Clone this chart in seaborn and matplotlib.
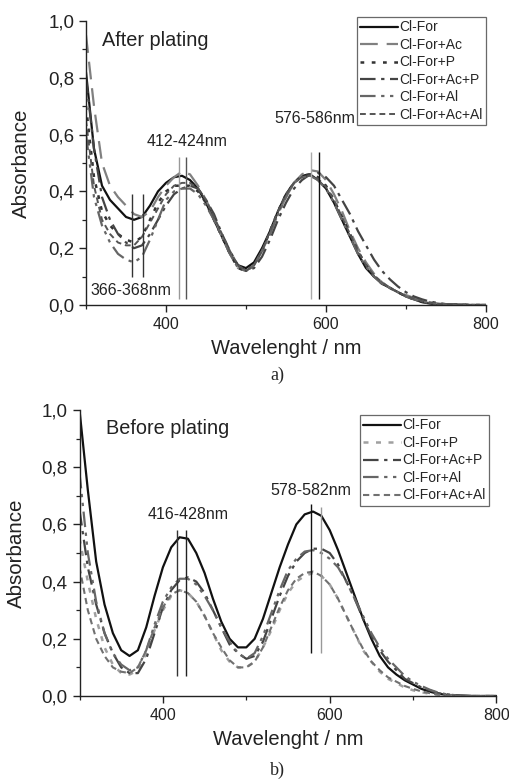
import numpy as np
import pandas as pd
import matplotlib
matplotlib.use("Agg")
import matplotlib.pyplot as plt
from matplotlib.ticker import MultipleLocator, FuncFormatter
import seaborn as sns

# ---------------- data ----------------
wavelength = list(range(300, 810, 10))

# After plating (a)
a_clfor = [0.82, 0.55, 0.42, 0.37, 0.34, 0.31, 0.30, 0.31, 0.35, 0.40, 0.43, 0.45, 0.455, 0.44, 0.41, 0.36,
           0.30, 0.24, 0.18, 0.14, 0.13, 0.15, 0.20, 0.26, 0.33, 0.39, 0.43, 0.455, 0.46, 0.44, 0.41, 0.36,
           0.30, 0.24, 0.18, 0.13, 0.10, 0.075, 0.06, 0.045, 0.03, 0.02, 0.01, 0.005, 0.003, 0.002, 0.001,
           0.001, 0.0, 0.0, 0.0]
a_ac = [0.95, 0.70, 0.50, 0.42, 0.38, 0.35, 0.32, 0.31, 0.33, 0.38, 0.42, 0.45, 0.47, 0.46, 0.42, 0.37,
        0.31, 0.24, 0.18, 0.13, 0.12, 0.14, 0.19, 0.25, 0.32, 0.38, 0.43, 0.46, 0.475, 0.47, 0.44, 0.39,
        0.33, 0.26, 0.20, 0.15, 0.11, 0.08, 0.06, 0.045, 0.035, 0.025, 0.015, 0.01, 0.005, 0.003, 0.002,
        0.001, 0.0, 0.0, 0.0]
a_p = [0.70, 0.45, 0.33, 0.28, 0.25, 0.23, 0.22, 0.24, 0.30, 0.36, 0.40, 0.42, 0.42, 0.42, 0.40, 0.36,
       0.30, 0.24, 0.18, 0.13, 0.12, 0.14, 0.19, 0.26, 0.33, 0.39, 0.43, 0.455, 0.46, 0.45, 0.42, 0.37,
       0.31, 0.25, 0.19, 0.14, 0.10, 0.075, 0.06, 0.045, 0.03, 0.02, 0.012, 0.006, 0.004, 0.002, 0.001,
       0.001, 0.0, 0.0, 0.0]
a_acp = [0.80, 0.55, 0.38, 0.30, 0.25, 0.22, 0.20, 0.21, 0.25, 0.30, 0.35, 0.39, 0.41, 0.42, 0.41, 0.37,
         0.32, 0.25, 0.19, 0.14, 0.12, 0.13, 0.17, 0.23, 0.30, 0.36, 0.41, 0.44, 0.46, 0.465, 0.45, 0.42,
         0.37, 0.32, 0.26, 0.21, 0.16, 0.12, 0.09, 0.065, 0.045, 0.03, 0.02, 0.012, 0.007, 0.003, 0.002,
         0.001, 0.0, 0.0, 0.0]
a_al = [0.60, 0.38, 0.28, 0.22, 0.18, 0.16, 0.15, 0.17, 0.23, 0.30, 0.37, 0.40, 0.41, 0.41, 0.39, 0.35,
        0.30, 0.24, 0.18, 0.13, 0.12, 0.14, 0.19, 0.25, 0.32, 0.38, 0.43, 0.45, 0.455, 0.44, 0.41, 0.36,
        0.30, 0.24, 0.18, 0.135, 0.10, 0.075, 0.06, 0.045, 0.03, 0.02, 0.012, 0.006, 0.004, 0.002, 0.001,
        0.001, 0.0, 0.0, 0.0]
a_acal = [0.65, 0.42, 0.30, 0.25, 0.22, 0.21, 0.21, 0.24, 0.29, 0.34, 0.39, 0.42, 0.43, 0.43, 0.41, 0.37,
          0.31, 0.25, 0.19, 0.14, 0.12, 0.14, 0.19, 0.26, 0.33, 0.39, 0.43, 0.45, 0.455, 0.445, 0.415, 0.37,
          0.31, 0.25, 0.19, 0.14, 0.105, 0.08, 0.06, 0.045, 0.032, 0.022, 0.013, 0.007, 0.004, 0.002, 0.001,
          0.001, 0.0, 0.0, 0.0]

# Before plating (b)
b_clfor = [1.00, 0.72, 0.47, 0.32, 0.22, 0.16, 0.14, 0.16, 0.24, 0.35, 0.45, 0.52, 0.555, 0.55, 0.50, 0.43,
           0.34, 0.26, 0.20, 0.17, 0.17, 0.20, 0.27, 0.36, 0.45, 0.53, 0.60, 0.635, 0.645, 0.63, 0.58, 0.51,
           0.43, 0.35, 0.27, 0.20, 0.14, 0.10, 0.075, 0.055, 0.04, 0.025, 0.015, 0.008, 0.004, 0.002, 0.001,
           0.0, 0.0, 0.0, 0.0]
b_p = [0.55, 0.40, 0.27, 0.17, 0.11, 0.08, 0.075, 0.09, 0.15, 0.23, 0.30, 0.35, 0.37, 0.36, 0.33, 0.28,
       0.22, 0.16, 0.12, 0.10, 0.10, 0.12, 0.17, 0.23, 0.30, 0.36, 0.40, 0.42, 0.43, 0.42, 0.39, 0.34,
       0.28, 0.22, 0.16, 0.12, 0.085, 0.06, 0.045, 0.03, 0.02, 0.013, 0.008, 0.004, 0.002, 0.001, 0.0,
       0.0, 0.0, 0.0, 0.0]
b_acp = [0.65, 0.45, 0.32, 0.22, 0.15, 0.10, 0.08, 0.08, 0.13, 0.22, 0.31, 0.37, 0.405, 0.415, 0.40, 0.36,
         0.30, 0.24, 0.18, 0.15, 0.13, 0.14, 0.19, 0.27, 0.35, 0.42, 0.47, 0.50, 0.515, 0.515, 0.50, 0.46,
         0.40, 0.34, 0.27, 0.21, 0.16, 0.12, 0.09, 0.06, 0.045, 0.03, 0.02, 0.01, 0.006, 0.003, 0.001,
         0.0, 0.0, 0.0, 0.0]
b_al = [0.78, 0.50, 0.33, 0.22, 0.15, 0.11, 0.09, 0.10, 0.16, 0.25, 0.33, 0.38, 0.41, 0.41, 0.39, 0.35,
        0.30, 0.24, 0.19, 0.15, 0.13, 0.15, 0.21, 0.29, 0.37, 0.44, 0.48, 0.505, 0.51, 0.50, 0.48, 0.45,
        0.40, 0.34, 0.28, 0.22, 0.17, 0.13, 0.10, 0.07, 0.05, 0.035, 0.022, 0.012, 0.006, 0.003, 0.001,
        0.0, 0.0, 0.0, 0.0]
b_acal = [0.45, 0.30, 0.20, 0.14, 0.10, 0.085, 0.08, 0.10, 0.16, 0.24, 0.31, 0.355, 0.37, 0.36, 0.33, 0.28,
          0.22, 0.17, 0.125, 0.10, 0.10, 0.12, 0.17, 0.24, 0.31, 0.37, 0.41, 0.43, 0.435, 0.42, 0.39, 0.34,
          0.28, 0.22, 0.165, 0.12, 0.09, 0.065, 0.05, 0.035, 0.025, 0.016, 0.01, 0.005, 0.002, 0.001, 0.0,
          0.0, 0.0, 0.0, 0.0]

labels_a = ["Cl-For", "Cl-For+Ac", "Cl-For+P", "Cl-For+Ac+P", "Cl-For+Al", "Cl-For+Ac+Al"]
labels_b = ["Cl-For", "Cl-For+P", "Cl-For+Ac+P", "Cl-For+Al", "Cl-For+Ac+Al"]

# peak marker lines: (wavelength, ymin, ymax, color)
marks_a = [(358, 0.10, 0.39, "#333333"), (371, 0.10, 0.39, "#333333"),
           (416, 0.02, 0.52, "#999999"), (425, 0.02, 0.52, "#555555"),
           (581, 0.02, 0.54, "#aaaaaa"), (591, 0.02, 0.54, "#111111")]
marks_b = [(417, 0.07, 0.58, "#333333"), (428, 0.07, 0.58, "#222222"),
           (577, 0.15, 0.67, "#111111"), (589, 0.15, 0.66, "#999999")]

ann_a = [("366-368nm", 356, 0.05), ("412-424nm", 426, 0.574), ("576-586nm", 586, 0.655)]
ann_b = [("416-428nm", 430, 0.636), ("578-582nm", 577, 0.72)]

# ---------------- styles ----------------
style = {
    "Cl-For": dict(color="#111111", ls="-", lw=1.6),
    "Cl-For+Ac": dict(color="#808080", ls=(0, (8, 4)), lw=1.6),
    "Cl-For+P": dict(color="#333333", ls=(0, (1.5, 3)), lw=1.8),
    "Cl-For+Ac+P": dict(color="#444444", ls=(0, (7, 2.5, 1.5, 2.5)), lw=1.6),
    "Cl-For+Al": dict(color="#666666", ls=(0, (7, 2.5, 1.5, 2.5, 1.5, 2.5)), lw=1.6),
    "Cl-For+Ac+Al": dict(color="#555555", ls=(0, (3, 2)), lw=1.4),
}
style_b = dict(style)
style_b["Cl-For+P"] = dict(color="#a0a0a0", ls=(0, (2, 3)), lw=1.8)
style_b["Cl-For+Ac+Al"] = dict(color="#707070", ls=(0, (3, 2)), lw=1.5)

sns.set_style("ticks")
plt.rcParams["font.family"] = ["Liberation Sans", "DejaVu Sans"]

W, H = 509, 779
fig = plt.figure(figsize=(W / 100, H / 100), dpi=100)
ax1 = fig.add_axes([86 / W, 1 - 305 / H, 400 / W, 284 / H])
ax2 = fig.add_axes([79.5 / W, 1 - 696 / H, 417 / W, 286 / H])


def draw(ax, labels, series, styles, marks, anns, title, title_xy, legend_box, ylabelpad):
    for lab, vals in zip(labels, series):
        st = styles[lab]
        sns.lineplot(x=wavelength, y=vals, ax=ax, color=st["color"], linestyle=st["ls"],
                     linewidth=st["lw"], label=lab)
    for (xv, y0, y1, c) in marks:
        ax.vlines(xv, y0, y1, colors=c, linewidth=1.0)
    for (txt, xv, yv) in anns:
        ax.text(xv, yv, txt, ha="center", va="center", fontsize=11.5, color="#222222")
    ax.text(title_xy[0], title_xy[1], title, ha="left", va="center", fontsize=14.3, color="#222222")
    ax.set_xlim(300, 800)
    ax.set_ylim(0, 1.0)
    ax.xaxis.set_major_locator(MultipleLocator(200))
    ax.xaxis.set_minor_locator(MultipleLocator(100))
    ax.yaxis.set_major_locator(MultipleLocator(0.2))
    ax.yaxis.set_minor_locator(MultipleLocator(0.1))
    ax.yaxis.set_major_formatter(FuncFormatter(lambda v, p: f"{v:.1f}".replace(".", ",")))
    ax.xaxis.set_major_formatter(FuncFormatter(lambda v, p: "" if v < 350 else f"{v:.0f}"))
    ax.tick_params(which="major", length=5, width=1.0, direction="out", colors="#222222")
    ax.tick_params(axis="y", which="major", labelsize=13.5)
    ax.tick_params(axis="x", which="major", labelsize=11.5)
    ax.tick_params(which="minor", length=3, width=0.9, direction="out", colors="#222222")
    for s in ["top", "right"]:
        ax.spines[s].set_visible(False)
    for s in ["left", "bottom"]:
        ax.spines[s].set_linewidth(1.0)
        ax.spines[s].set_color("#222222")
    ax.set_xlabel("Wavelenght / nm", fontsize=14.5, color="#222222", labelpad=5)
    ax.set_ylabel("Absorbance", fontsize=14.8, color="#222222", labelpad=ylabelpad)
    leg = ax.legend(loc="upper right", bbox_to_anchor=legend_box, bbox_transform=fig.transFigure,
                    borderaxespad=0, fontsize=10, frameon=True, fancybox=False, handlelength=2.7,
                    handletextpad=0.1, labelspacing=0.25, borderpad=0.25)
    leg.get_frame().set_edgecolor("#444444")
    leg.get_frame().set_linewidth(0.9)


draw(ax1, labels_a, [a_clfor, a_ac, a_p, a_acp, a_al, a_acal], style, marks_a, ann_a,
     "After plating", (320, 0.93), (486 / W, 1 - 17 / H), 12)
draw(ax2, labels_b, [b_clfor, b_p, b_acp, b_al, b_acal], style_b, marks_b, ann_b,
     "Before plating", (332, 0.934), (489 / W, 1 - 415 / H), 11)

fig.text(277 / W, 1 - 375 / H, "a)", ha="center", va="center", fontsize=13, family=["Liberation Serif"])
fig.text(277 / W, 1 - 770 / H, "b)", ha="center", va="center", fontsize=13, family=["Liberation Serif"])

fig.savefig("out.png", dpi=100)
